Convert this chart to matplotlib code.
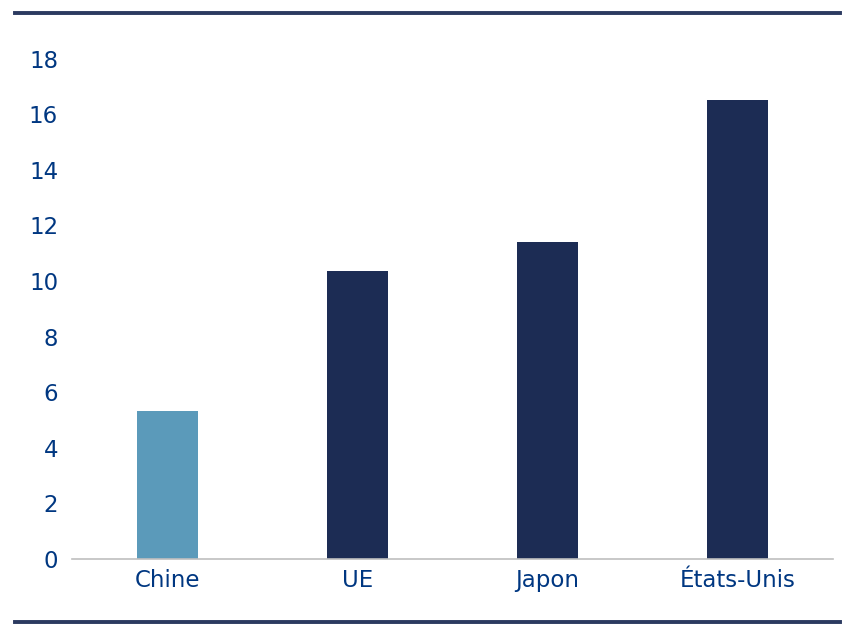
import matplotlib
matplotlib.use("Agg")
import matplotlib.pyplot as plt
from matplotlib.lines import Line2D

categories = ["Chine", "UE", "Japon", "États-Unis"]
values = [5.33, 10.37, 11.41, 16.52]
bar_colors = ["#5b9aba", "#1c2c54", "#1c2c54", "#1c2c54"]
yticks = [0, 2, 4, 6, 8, 10, 12, 14, 16, 18]

text_color = "#003781"
rule_color = "#2b3a60"

fig = plt.figure(figsize=(8.55, 6.38), dpi=100)
ax = fig.add_axes([72/855, 1-559/638, (833-72)/855, (559-58.5)/638])

x = list(range(len(categories)))
ax.bar(x, values, width=0.32, color=bar_colors, zorder=2)

ax.set_xlim(-0.5, 3.5)
ax.set_ylim(0, 18)
ax.set_yticks(yticks)
ax.set_yticklabels([str(t) for t in yticks])
ax.set_xticks(x)
ax.set_xticklabels(categories)

for s in ["top", "right", "left"]:
    ax.spines[s].set_visible(False)
ax.spines["bottom"].set_color("#bfbfbf")
ax.spines["bottom"].set_linewidth(1.2)

ax.tick_params(axis="y", length=0, pad=10, labelsize=16.5, labelcolor=text_color)
ax.tick_params(axis="x", length=0, pad=7, labelsize=16.5, labelcolor=text_color)

# top and bottom horizontal rules
fig.add_artist(Line2D([15/855, 840/855], [1-13/638, 1-13/638], color=rule_color, lw=2.8, transform=fig.transFigure))
fig.add_artist(Line2D([15/855, 840/855], [1-622/638, 1-622/638], color=rule_color, lw=2.8, transform=fig.transFigure))

fig.savefig("out.png", dpi=100)
